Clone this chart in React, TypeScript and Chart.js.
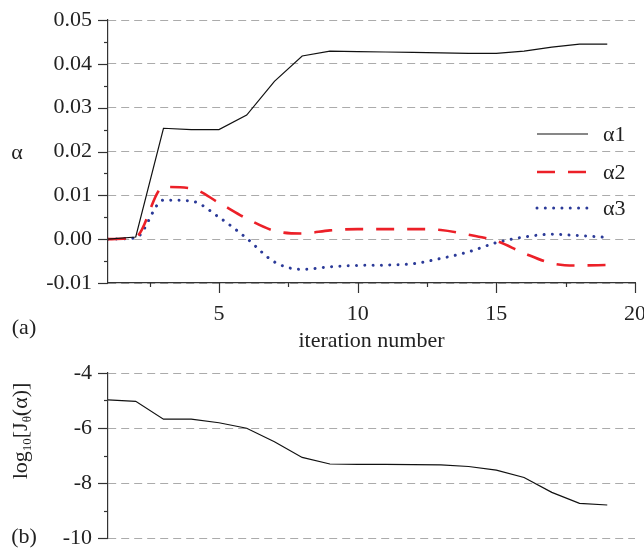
import React, { useEffect, useRef } from "react";
import { Chart, registerables } from "chart.js";

Chart.register(...registerables);

const iterations = [1, 2, 3, 4, 5, 6, 7, 8, 9, 10, 11, 12, 13, 14, 15, 16, 17, 18, 19];
const alpha1 = [0, 0.0005, 0.0253, 0.025, 0.025, 0.0283, 0.036, 0.0418, 0.0429, 0.0428, 0.0427, 0.0426, 0.0425, 0.0424, 0.0424, 0.0429, 0.0438, 0.0445, 0.0445];
const alpha2 = [0, 0.0005, 0.0119, 0.0116, 0.0083, 0.0047, 0.0019, 0.0013, 0.002, 0.0023, 0.0023, 0.0023, 0.0021, 0.001, -0.0004, -0.0032, -0.0055, -0.006, -0.0059];
const alpha3 = [0, 0.0003, 0.0089, 0.0087, 0.005, 0.0002, -0.0052, -0.0069, -0.0063, -0.006, -0.0059, -0.0056, -0.0044, -0.0029, -0.0008, 0.0005, 0.0011, 0.0008, 0.0004];
const logJ = [-4.98, -5.03, -5.68, -5.68, -5.81, -6.01, -6.5, -7.07, -7.31, -7.32, -7.32, -7.33, -7.34, -7.4, -7.53, -7.8, -8.34, -8.74, -8.8];
const xMajorTicks = [5, 10, 15, 20];
const seriesNames = ["α1", "α2", "α3"];

const FONT = "Liberation Serif";
const RED = "#ec2028";
const BLUE = "#2b3a98";
const GRID = "#ababab";

const W = 644;
const H1 = 355;
const H2 = 194;

const styles = [
  { color: "#111", width: 1.2, dash: [] as number[], cap: "butt" as CanvasLineCap },
  { color: RED, width: 2.6, dash: [18, 13], cap: "butt" as CanvasLineCap },
  { color: BLUE, width: 3, dash: [0.01, 8.3], cap: "round" as CanvasLineCap },
];

function pts(ys: number[]) {
  return iterations.map((x, i) => ({ x, y: ys[i] }));
}

function drawTicks(ctx: CanvasRenderingContext2D, chart: any, yMin: number, yMax: number, yMinor: number, drawX: boolean) {
  const ys = chart.scales.y;
  const xs = chart.scales.x;
  const area = chart.chartArea;
  ctx.save();
  ctx.strokeStyle = "#333";
  ctx.lineWidth = 1.2;
  let k = 0;
  for (let v = yMin; v <= yMax + yMinor / 2; v += yMinor, k++) {
    const py = Math.round(ys.getPixelForValue(v)) + 0.5;
    const len = k % 2 === 0 ? 10 : 4;
    ctx.beginPath();
    ctx.moveTo(area.left - len, py);
    ctx.lineTo(area.left, py);
    ctx.stroke();
  }
  if (drawX) {
    for (let v = 2.5; v <= 20; v += 2.5) {
      const px = Math.round(xs.getPixelForValue(v)) + 0.5;
      const len = v % 5 === 0 ? 10 : 4;
      ctx.beginPath();
      ctx.moveTo(px, area.bottom);
      ctx.lineTo(px, area.bottom + len);
      ctx.stroke();
    }
  }
  ctx.restore();
}

const topPlugin = {
  id: "topDecor",
  afterDraw(chart: any) {
    const ctx = chart.ctx as CanvasRenderingContext2D;
    drawTicks(ctx, chart, -0.01, 0.05, 0.005, true);
    ctx.save();
    ctx.fillStyle = "#222";
    ctx.font = `22px "${FONT}"`;
    ctx.textAlign = "center";
    ctx.textBaseline = "middle";
    ctx.fillText("α", 17, 153);
    ctx.fillText("(a)", 24, 328);
    // legend
    const ly = [134, 172, 208];
    styles.forEach((s, i) => {
      ctx.save();
      ctx.strokeStyle = s.color;
      ctx.lineWidth = s.width;
      ctx.setLineDash(s.dash);
      ctx.lineCap = s.cap;
      ctx.beginPath();
      ctx.moveTo(537, ly[i]);
      ctx.lineTo(588, ly[i]);
      ctx.stroke();
      ctx.restore();
      ctx.textAlign = "left";
      ctx.fillText(seriesNames[i], 603, ly[i] + 1);
    });
    ctx.restore();
  },
};

const bottomPlugin = {
  id: "bottomDecor",
  afterDraw(chart: any) {
    const ctx = chart.ctx as CanvasRenderingContext2D;
    drawTicks(ctx, chart, -10, -4, 1, false);
    ctx.save();
    ctx.fillStyle = "#222";
    ctx.textBaseline = "alphabetic";
    ctx.font = `22px "${FONT}"`;
    ctx.textAlign = "center";
    ctx.fillText("(b)", 24, 188);
    // rotated title with subscripts
    const parts = [
      { t: "log", sub: false },
      { t: "10", sub: true },
      { t: "[J", sub: false },
      { t: "θ", sub: true },
      { t: "(α)]", sub: false },
    ];
    const big = `22px "${FONT}"`;
    const small = `13px "${FONT}"`;
    let total = 0;
    const widths = parts.map((p) => {
      ctx.font = p.sub ? small : big;
      const w = ctx.measureText(p.t).width;
      total += w;
      return w;
    });
    ctx.translate(27, 76);
    ctx.rotate(-Math.PI / 2);
    ctx.textAlign = "left";
    let x = -total / 2;
    parts.forEach((p, i) => {
      ctx.font = p.sub ? small : big;
      ctx.fillText(p.t, x, p.sub ? 4 : 0);
      x += widths[i];
    });
    ctx.restore();
  },
};

export default function App() {
  const topRef = useRef<HTMLCanvasElement>(null);
  const botRef = useRef<HTMLCanvasElement>(null);

  useEffect(() => {
    const tickFont = { family: FONT, size: 22 };
    const topChart = new Chart(topRef.current!, {
      type: "line",
      data: {
        datasets: [alpha1, alpha2, alpha3].map((d, i) => ({
          label: seriesNames[i],
          data: pts(d),
          borderColor: styles[i].color,
          borderWidth: styles[i].width,
          borderDash: styles[i].dash,
          borderCapStyle: styles[i].cap,
          pointRadius: 0,
          fill: false,
          tension: 0,
          cubicInterpolationMode: i === 0 ? "default" : "monotone",
        })) as any,
      },
      options: {
        responsive: false,
        animation: false,
        events: [],
        layout: { padding: { top: 20, right: 9, left: 0, bottom: 0 } },
        plugins: { legend: { display: false }, tooltip: { enabled: false } },
        scales: {
          x: {
            type: "linear",
            min: 1,
            max: 20,
            afterBuildTicks: (s: any) => {
              s.ticks = xMajorTicks.map((v) => ({ value: v }));
            },
            afterFit: (s: any) => {
              s.height = H1 - 283;
              s.paddingLeft = 0;
              s.paddingRight = 0;
            },
            ticks: { font: tickFont, color: "#222", padding: 18, maxRotation: 0, autoSkip: false },
            grid: { display: false, drawTicks: false },
            border: { display: true, color: "#333", width: 1.2 },
            title: { display: true, text: "iteration number", font: tickFont, color: "#222", padding: { top: 0, bottom: 1 } },
          },
          y: {
            min: -0.01,
            max: 0.05,
            afterFit: (s: any) => {
              s.width = 108;
              s.paddingTop = 0;
              s.paddingBottom = 0;
            },
            ticks: { stepSize: 0.01, font: tickFont, color: "#222", padding: 16, callback: (v: any) => Number(v).toFixed(2) },
            grid: { color: GRID, lineWidth: 1, drawTicks: false, borderDash: [8, 5] } as any,
            border: { display: true, color: "#333", width: 1.2, dash: [8, 5] },
          },
        },
      } as any,
      plugins: [topPlugin],
    });

    const botChart = new Chart(botRef.current!, {
      type: "line",
      data: {
        datasets: [
          {
            label: "log10[Jθ(α)]",
            data: pts(logJ),
            borderColor: "#111",
            borderWidth: 1.2,
            pointRadius: 0,
            fill: false,
            tension: 0,
          },
        ],
      },
      options: {
        responsive: false,
        animation: false,
        events: [],
        layout: { padding: { top: 18, right: 9, left: 0, bottom: 11 } },
        plugins: { legend: { display: false }, tooltip: { enabled: false } },
        scales: {
          x: { type: "linear", min: 1, max: 20, display: false },
          y: {
            min: -10,
            max: -4,
            afterFit: (s: any) => {
              s.width = 108;
              s.paddingTop = 0;
              s.paddingBottom = 0;
            },
            ticks: { stepSize: 2, font: tickFont, color: "#222", padding: 16, callback: (v: any) => String(Math.round(Number(v))) },
            grid: { color: GRID, lineWidth: 1, drawTicks: false, borderDash: [8, 5] } as any,
            border: { display: true, color: "#333", width: 1.2, dash: [8, 5] },
          },
        },
      } as any,
      plugins: [bottomPlugin],
    });

    return () => {
      topChart.destroy();
      botChart.destroy();
    };
  }, []);

  return (
    <div style={{ position: "absolute", left: 0, top: 0, width: W, height: H1 + H2, background: "#fff", overflow: "hidden" }}>
      <canvas ref={topRef} width={W} height={H1} style={{ position: "absolute", left: 0, top: 0, width: W, height: H1 }} />
      <canvas ref={botRef} width={W} height={H2} style={{ position: "absolute", left: 0, top: H1, width: W, height: H2 }} />
    </div>
  );
}
